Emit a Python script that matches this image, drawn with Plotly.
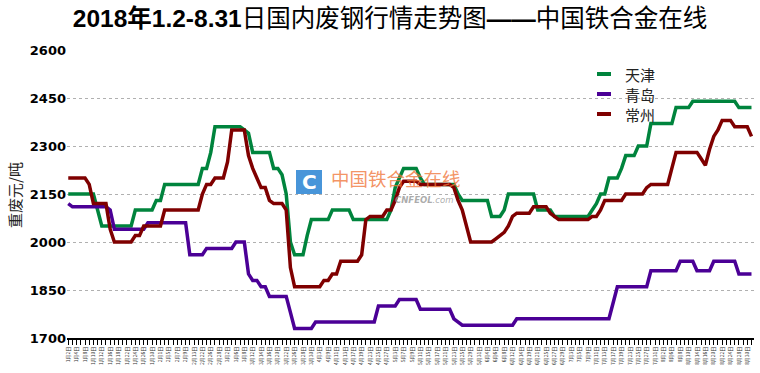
import plotly.graph_objects as go

dates = (
    ["1/2","1/3","1/4","1/5","1/8","1/9","1/10","1/11","1/12","1/15","1/16","1/17","1/18","1/19",
     "1/22","1/23","1/24","1/25","1/26","1/29","1/30","1/31"]
    + ["2/1","2/2","2/5","2/6","2/7","2/8","2/9","2/12","2/13","2/14","2/22","2/23","2/26","2/27","2/28"]
    + ["3/1","3/2","3/5","3/6","3/7","3/8","3/9","3/12","3/13","3/14","3/15","3/16","3/19","3/20",
       "3/21","3/22","3/23","3/26","3/27","3/28","3/29","3/30"]
    + ["4/2","4/3","4/4","4/9","4/10","4/11","4/12","4/13","4/16","4/17","4/18","4/19","4/20",
       "4/23","4/24","4/25","4/26","4/27"]
    + ["5/2","5/3","5/4","5/7","5/8","5/9","5/10","5/11","5/14","5/15","5/16","5/17","5/18",
       "5/21","5/22","5/23","5/24","5/25","5/28","5/29","5/30","5/31"]
    + ["6/1","6/4","6/5","6/6","6/7","6/8","6/11","6/12","6/13","6/14","6/15","6/19","6/20",
       "6/21","6/22","6/25","6/26","6/27","6/28","6/29"]
    + ["7/2","7/3","7/4","7/5","7/6","7/9","7/10","7/11","7/12","7/13","7/16","7/17","7/18",
       "7/19","7/20","7/23","7/24","7/25","7/26","7/27","7/30","7/31"]
    + ["8/1","8/2","8/3","8/6","8/7","8/8","8/9","8/10","8/13","8/14","8/15","8/16","8/17",
       "8/20","8/21","8/22","8/23","8/24","8/27","8/28","8/29","8/30","8/31"]
)

tianjin = [
    2150,2150,2150,2150,2150,2150,2150,2100,2050,2050,
    2050,2050,2050,2050,2050,2050,2100,2100,2100,2100,
    2100,2130,2130,2180,2180,2180,2180,2180,2180,2180,
    2180,2180,2230,2230,2280,2360,2360,2360,2360,2360,
    2360,2360,2350,2340,2280,2280,2280,2280,2280,2230,
    2230,2210,2150,2000,1960,1960,1960,2020,2070,2070,
    2070,2070,2070,2100,2100,2100,2100,2100,2070,2070,
    2070,2070,2070,2070,2070,2070,2070,2100,2170,2200,
    2230,2230,2230,2230,2200,2180,2180,2180,2180,2180,
    2180,2180,2180,2150,2130,2130,2130,2130,2130,2130,
    2130,2080,2080,2080,2100,2150,2150,2150,2150,2150,
    2150,2150,2100,2100,2100,2100,2080,2080,2080,2080,
    2080,2080,2080,2080,2080,2100,2120,2150,2150,2200,
    2200,2200,2230,2270,2270,2270,2300,2300,2300,2370,
    2370,2370,2370,2370,2370,2420,2420,2420,2420,2440,
    2440,2440,2440,2440,2440,2440,2440,2440,2440,2440,
    2420,2420,2420,2420,
]

qingdao = [
    2120,2110,2110,2110,2110,2110,2110,2110,2110,2110,
    2100,2040,2040,2040,2040,2040,2040,2040,2040,2060,
    2060,2060,2060,2060,2060,2060,2060,2060,2060,1960,
    1960,1960,1960,1980,1980,1980,1980,1980,1980,1980,
    2000,2000,2000,1900,1880,1880,1860,1860,1830,1830,
    1830,1830,1830,1780,1730,1730,1730,1730,1730,1750,
    1750,1750,1750,1750,1750,1750,1750,1750,1750,1750,
    1750,1750,1750,1750,1800,1800,1800,1800,1800,1820,
    1820,1820,1820,1820,1790,1790,1790,1790,1790,1790,
    1790,1790,1760,1750,1740,1740,1740,1740,1740,1740,
    1740,1740,1740,1740,1740,1740,1740,1760,1760,1760,
    1760,1760,1760,1760,1760,1760,1760,1760,1760,1760,
    1760,1760,1760,1760,1760,1760,1760,1760,1760,1760,
    1810,1860,1860,1860,1860,1860,1860,1860,1860,1910,
    1910,1910,1910,1910,1910,1910,1940,1940,1940,1940,
    1910,1910,1910,1910,1940,1940,1940,1940,1940,1940,
    1900,1900,1900,1900,
]

changzhou = [
    2200,2200,2200,2200,2200,2180,2120,2120,2120,2120,
    2040,2000,2000,2000,2000,2000,2020,2020,2050,2050,
    2050,2050,2050,2100,2100,2100,2100,2100,2100,2100,
    2100,2100,2150,2180,2180,2200,2200,2200,2250,2350,
    2350,2350,2350,2270,2230,2200,2170,2170,2130,2120,
    2120,2120,2100,1920,1860,1860,1860,1860,1860,1860,
    1860,1880,1880,1900,1900,1940,1940,1940,1940,1940,
    1960,2070,2080,2080,2080,2080,2100,2100,2130,2170,
    2190,2190,2190,2190,2180,2180,2180,2180,2180,2180,
    2180,2180,2170,2130,2100,2050,2000,2000,2000,2000,
    2000,2000,2010,2020,2030,2050,2080,2090,2090,2090,
    2090,2110,2110,2110,2110,2090,2080,2070,2070,2070,
    2070,2070,2070,2070,2070,2080,2080,2100,2130,2130,
    2130,2130,2130,2150,2150,2150,2150,2150,2170,2180,
    2180,2180,2180,2180,2230,2280,2280,2280,2280,2280,
    2280,2260,2240,2290,2330,2350,2380,2380,2380,2360,
    2360,2360,2360,2330,
]

y_ticks = [1700, 1850, 2000, 2150, 2300, 2450, 2600]

series = [("天津", tianjin, "#00843D"), ("青岛", qingdao, "#4B0096"), ("常州", changzhou, "#7F0000")]

L, R, T, B = 67, 6, 50, 35
PW, PH = 760 - L - R, 373 - T - B


def px(xp):
    return (xp - L) / PW


def py(yp):
    return (373 - B - yp) / PH


idx = list(range(len(dates)))
fig = go.Figure()
for name, vals, col in series:
    fig.add_trace(go.Scatter(x=idx, y=vals, mode="lines", name=name,
                             line=dict(color=col, width=3.5), showlegend=False))


def md(d):
    m, dd = d.split("/")
    return f"{m}月{dd}日"


ticktext = [md(d) if i % 2 == 0 else "" for i, d in enumerate(dates)]

fig.update_layout(
    width=760, height=373,
    margin=dict(l=L, r=R, t=T, b=B),
    paper_bgcolor="white", plot_bgcolor="white",
    showlegend=False,
    title=dict(text="<b>2018年1.2-8.31</b>日国内废钢行情走势图<b>——</b>中国铁合金在线",
               x=390 / 760, xref="container", xanchor="center", y=1 - 18 / 373, yref="container",
               yanchor="middle",
               font=dict(family="Liberation Sans, Noto Sans CJK SC", size=24.5, color="black")),
    xaxis=dict(range=[-0.3, 163.6], tickmode="array", tickvals=idx, ticktext=ticktext,
               tickangle=-90, tickfont=dict(size=5, family="Noto Sans CJK SC", color="#333"),
               ticks="outside", ticklen=5, tickcolor="black", tickwidth=1,
               showline=True, linecolor="black", linewidth=1.5,
               showgrid=False, zeroline=False),
    yaxis=dict(range=[1700, 2600], tickmode="array", tickvals=y_ticks,
               tickfont=dict(family="DejaVu Sans", size=13, color="black", weight="bold"),
               showgrid=True, gridcolor="#B0B0B0", griddash="dot", gridwidth=1,
               zeroline=False, showline=False, ticks=""),
)

# custom legend (short line keys as in the reference)
leg_y = [74, 94, 114]
for (name, vals, col), yy in zip(series, leg_y):
    fig.add_shape(type="line", xref="paper", yref="paper",
                  x0=px(597), x1=px(611), y0=py(yy), y1=py(yy),
                  line=dict(color=col, width=4))
    fig.add_annotation(x=px(623), y=py(yy), xref="paper", yref="paper",
                       xanchor="left", yanchor="middle",
                       text=name, showarrow=False,
                       font=dict(family="Noto Sans CJK SC", size=15, color="#222"))

# watermark
fig.add_shape(type="rect", xref="paper", yref="paper",
              x0=px(296), x1=px(322), y0=py(194), y1=py(170),
              fillcolor="rgba(40,130,210,0.85)", line=dict(width=0), layer="below")
fig.add_annotation(x=px(309), y=py(182), xref="paper", yref="paper",
                   xanchor="center", yanchor="middle",
                   text="<b>C</b>", showarrow=False,
                   font=dict(family="DejaVu Sans", size=20, color="white"))
fig.add_annotation(x=px(329), y=py(178), xref="paper", yref="paper",
                   xanchor="left", yanchor="middle",
                   text="中国铁合金在线", showarrow=False,
                   font=dict(family="Noto Sans CJK SC", size=18.5, color="rgba(240,120,60,0.8)"))
fig.add_annotation(x=px(393), y=py(200), xref="paper", yref="paper",
                   xanchor="left", yanchor="middle",
                   text="<i><b>CNFEOL</b>.com</i>", showarrow=False,
                   font=dict(family="DejaVu Sans", size=8.5, color="rgba(150,150,150,0.8)"))

fig.add_annotation(x=px(14), y=py(195), xref="paper", yref="paper", text="重废元/吨",
                   xanchor="center", yanchor="middle",
                   textangle=-90, showarrow=False,
                   font=dict(family="Noto Sans CJK SC", size=15, color="#222"))

fig.write_html("out.html")
